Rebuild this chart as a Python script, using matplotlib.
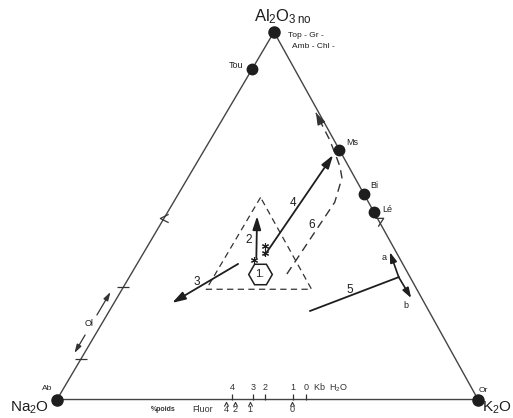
import numpy as np
import matplotlib.pyplot as plt
from matplotlib.path import Path
from matplotlib import transforms

plt.rcParams['font.family'] = ['Liberation Sans', 'DejaVu Sans']
plt.rcParams['mathtext.default'] = 'regular'

INK = '#1e1e1e'
SKEW = 0.5154  # horizontal place of the Al2O3 apex along the base

# compositions are given as (Al2O3, K2O) fractions, Na2O is the rest
minerals = ["Tou", "Ms", "Bi", "Lé"]
mineral_al = [0.90, 0.68, 0.56, 0.51]
mineral_k = [0.00, 0.32, 0.44, 0.49]

apex_al = [0.0, 1.0, 0.0]
apex_k = [0.0, 0.0, 1.0]

# dashed field of the granites
field_al = [0.55, 0.30, 0.30]
field_k = [0.20, 0.20, 0.45]

# field 1 (hexagon) and the starred compositions
hex_al, hex_k = 0.341, 0.306
star_al = [0.380, 0.418, 0.399]
star_k = [0.272, 0.279, 0.288]

# evolution vectors 2, 3, 4 (start -> end)
vec_names = ["2", "3", "4"]
vec_al0 = [0.385, 0.369, 0.393]
vec_k0 = [0.275, 0.240, 0.291]
vec_al1 = [0.499, 0.263, 0.665]
vec_k1 = [0.218, 0.138, 0.313]

# trend 5 with its two branches a and b
line5_al = [0.241, 0.333]
line5_k = [0.477, 0.640]
branch_a = (0.401, 0.584)
branch_b = (0.276, 0.699)

# dashed trend 6
trend6_al = [0.3415, 0.537, 0.603, 0.633, 0.657, 0.706, 0.780]
trend6_k = [0.370, 0.383, 0.366, 0.346, 0.326, 0.284, 0.213]

# olivine range on the Na2O - Al2O3 side
ol_al = [0.306, 0.110]

# H2O pressure (kb) and fluorine (wt %) scales on the base, as K2O fraction
h2o_kb = [4, 3, 2, 1, 0]
h2o_pos = [0.416, 0.466, 0.494, 0.561, 0.591]
fluor_pct = [4, 2, 1, 0]
fluor_pos = [0.401, 0.423, 0.458, 0.558]


def xy(al, k):
    al = np.asarray(al, dtype=float)
    k = np.asarray(k, dtype=float)
    return k + SKEW * al, al


fig = plt.figure(figsize=(5.13, 4.18), dpi=100)
ax = fig.add_axes([0, 0, 1, 1])
ax.set_xlim(-0.1354, 1.0831)
ax.set_ylim(-0.0503, 1.0871)
ax.axis('off')

# triangle
ax.plot(*xy([0, 1, 0, 0], [0, 0, 1, 0]), color='#444444', lw=1.0, zorder=1)

# dashed field
fx, fy = xy(field_al + field_al[:1], field_k + field_k[:1])
ax.plot(fx, fy, color='#333333', lw=0.9, dashes=(5, 3.5))

# trend 6
tx, ty = xy(trend6_al, trend6_k)
ax.plot(tx, ty, color='#333333', lw=1.0, dashes=(6, 4))
head_from = (tx[-1] - 0.25 * (tx[-1] - tx[-2]), ty[-1] - 0.25 * (ty[-1] - ty[-2]))
ax.annotate('', xy=(tx[-1], ty[-1]), xytext=head_from,
            arrowprops=dict(arrowstyle='-|>,head_length=0.7,head_width=0.25',
                            color='#333333', lw=1.0, shrinkA=0, shrinkB=0))
ax.annotate('6', xy=((tx[0] + tx[1]) / 2, (ty[0] + ty[1]) / 2), xytext=(1, 13),
            textcoords='offset pixels', ha='center', va='center', fontsize=8.5, color=INK)

# vectors 2, 3, 4
label_off = {"2": (-8, -3), "3": (-8, 1.5), "4": (-6, 2)}
for name, a0, k0, a1, k1 in zip(vec_names, vec_al0, vec_k0, vec_al1, vec_k1):
    x0, y0 = xy(a0, k0)
    x1, y1 = xy(a1, k1)
    ax.annotate('', xy=(x1, y1), xytext=(x0, y0),
                arrowprops=dict(arrowstyle='-|>,head_length=0.8,head_width=0.25',
                                color=INK, lw=1.3, shrinkA=0, shrinkB=0))
    ax.annotate(name, xy=((x0 + x1) / 2, (y0 + y1) / 2), xytext=label_off[name],
                textcoords='offset pixels', ha='center', va='center',
                fontsize=8.5, color=INK)

# trend 5 and branches
lx, ly = xy(line5_al, line5_k)
ax.plot(lx, ly, color=INK, lw=1.3)
ax.annotate('5', xy=(lx.mean(), ly.mean()), xytext=(-5, 4), textcoords='offset pixels',
            ha='center', va='center', fontsize=8.5, color=INK)
for (ba, bk), name, off in [(branch_a, 'a', (-6, -5)), (branch_b, 'b', (-5, -7))]:
    bx, by = xy(ba, bk)
    ax.annotate('', xy=(bx, by), xytext=(lx[-1], ly[-1]),
                arrowprops=dict(arrowstyle='-|>,head_length=0.6,head_width=0.2',
                                color=INK, lw=1.2, shrinkA=0, shrinkB=0))
    ax.annotate(name, xy=(bx, by), xytext=off, textcoords='offset pixels',
                ha='center', va='center', fontsize=6.5, color=INK)

# field 1 and starred rocks
hx, hy = xy(hex_al, hex_k)
ax.plot(hx, hy, marker='H', ms=17, mfc='white', mec=INK, mew=1.1)
ax.text(hx, hy, '1.', ha='center', va='center', fontsize=8, color=INK)
sx, sy = xy(star_al, star_k)
ax.plot(sx, sy, marker=(6, 2, 0), ms=5, mec=INK, mew=0.8, ls='none')

# olivine
ox, oy = xy(ol_al, [0, 0])
tick = Path([(-1, 0), (1, 0)], [Path.MOVETO, Path.LINETO])
ax.plot(ox, oy, marker=tick, ms=8, mec='#333333', mew=0.9, ls='none')
ol_tr = transforms.offset_copy(ax.transData, fig, x=-10, y=0, units='dots')
for a_from, a_to in [(0.230, 0.2925), (0.1755, 0.1265)]:
    ax.annotate('', xy=xy(a_to, 0), xytext=xy(a_from, 0),
                xycoords=ol_tr, textcoords=ol_tr,
                arrowprops=dict(arrowstyle='-|>,head_length=0.5,head_width=0.15',
                                color='#333333', lw=0.9, shrinkA=0, shrinkB=0))
ax.annotate('Ol', xy=xy(0.208, 0), xytext=(-13, 0), textcoords='offset pixels',
            ha='center', va='center', fontsize=6.5, color=INK)

# small marks on the sides
chev = Path([(1, 1), (-1, 0), (1, -1)], [Path.MOVETO, Path.LINETO, Path.LINETO])
ax.plot(*xy(0.494, 0), marker=chev, ms=6, mfc='none', mec='#333333', mew=0.9)
seven = Path([(-1, 1), (1, 1), (-0.3, -1)], [Path.MOVETO, Path.LINETO, Path.LINETO])
ax.plot(*xy(0.483, 0.517), marker=seven, ms=6, mfc='none', mec='#333333', mew=0.9)

# apex and mineral dots
ax.plot(*xy(apex_al, apex_k), 'o', ms=8, color=INK, ls='none', zorder=5)
ax.plot(*xy(mineral_al, mineral_k), 'o', ms=7.5, color=INK, ls='none', zorder=5)

mineral_off = {"Tou": (-9, 3, 'right'), "Ms": (7, 7, 'left'),
               "Bi": (6, 8, 'left'), "Lé": (8, 3, 'left')}
for name, a, k in zip(minerals, mineral_al, mineral_k):
    dx, dy, ha = mineral_off[name]
    ax.annotate(name, xy=xy(a, k), xytext=(dx, dy), textcoords='offset pixels',
                ha=ha, va='center', fontsize=6.5, color=INK)

# apex labels
ax.annotate('Al$_2$O$_{3\\,no}$', xy=xy(1, 0), xytext=(9, 15), textcoords='offset pixels',
            ha='center', va='center', fontsize=12, color=INK)
ax.annotate('Top - Gr -', xy=xy(1, 0), xytext=(14, -3), textcoords='offset pixels',
            ha='left', va='center', fontsize=6, color=INK)
ax.annotate('Amb - Chl -', xy=xy(1, 0), xytext=(18, -14), textcoords='offset pixels',
            ha='left', va='center', fontsize=6, color=INK)
ax.annotate('Na$_2$O', xy=xy(0, 0), xytext=(-27, -8), textcoords='offset pixels',
            ha='center', va='center', fontsize=11, color=INK)
ax.annotate('Ab', xy=xy(0, 0), xytext=(-10, 11), textcoords='offset pixels',
            ha='center', va='center', fontsize=6, color=INK)
ax.annotate('K$_2$O', xy=xy(0, 1), xytext=(19, -8), textcoords='offset pixels',
            ha='center', va='center', fontsize=11, color=INK)
ax.annotate('Or', xy=xy(0, 1), xytext=(5, 9), textcoords='offset pixels',
            ha='center', va='center', fontsize=6, color=INK)

# H2O and fluorine scales on the base
hx, hy = xy(np.zeros(len(h2o_pos)), h2o_pos)
ax.plot(hx, hy, marker=2, ms=4, mec='#333333', mew=0.9, ls='none')
for x, v in zip(hx, h2o_kb):
    ax.annotate(str(v), xy=(x, 0), xytext=(0, 12), textcoords='offset pixels',
                ha='center', va='center', fontsize=6.5, color='#333333')
ax.annotate('Kb  H$_2$O', xy=(hx[-1], 0), xytext=(7, 12), textcoords='offset pixels',
            ha='left', va='center', fontsize=6.5, color='#333333')

fx2, fy2 = xy(np.zeros(len(fluor_pos)), fluor_pos)
caret = Path([(-1, -1), (0, 1), (1, -1)], [Path.MOVETO, Path.LINETO, Path.LINETO])
low = transforms.offset_copy(ax.transData, fig, x=0, y=-4, units='dots')
ax.plot(fx2, fy2, marker=caret, ms=3, mfc='none', mec='#333333', mew=0.8,
        ls='none', transform=low)
for x, v in zip(fx2, fluor_pct):
    ax.annotate(str(v), xy=(x, 0), xytext=(0, -10), textcoords='offset pixels',
                ha='center', va='center', fontsize=6.5, color='#333333')
ax.annotate('Fluor', xy=(fx2[0], 0), xytext=(-13, -10), textcoords='offset pixels',
            ha='right', va='center', fontsize=6.5, color='#333333')
ax.annotate('%poids', xy=(fx2[0], 0), xytext=(-50, -10), textcoords='offset pixels',
            ha='right', va='center', fontsize=5, fontweight='bold', color='#333333')

fig.savefig('out.png', dpi=100, facecolor='white')
